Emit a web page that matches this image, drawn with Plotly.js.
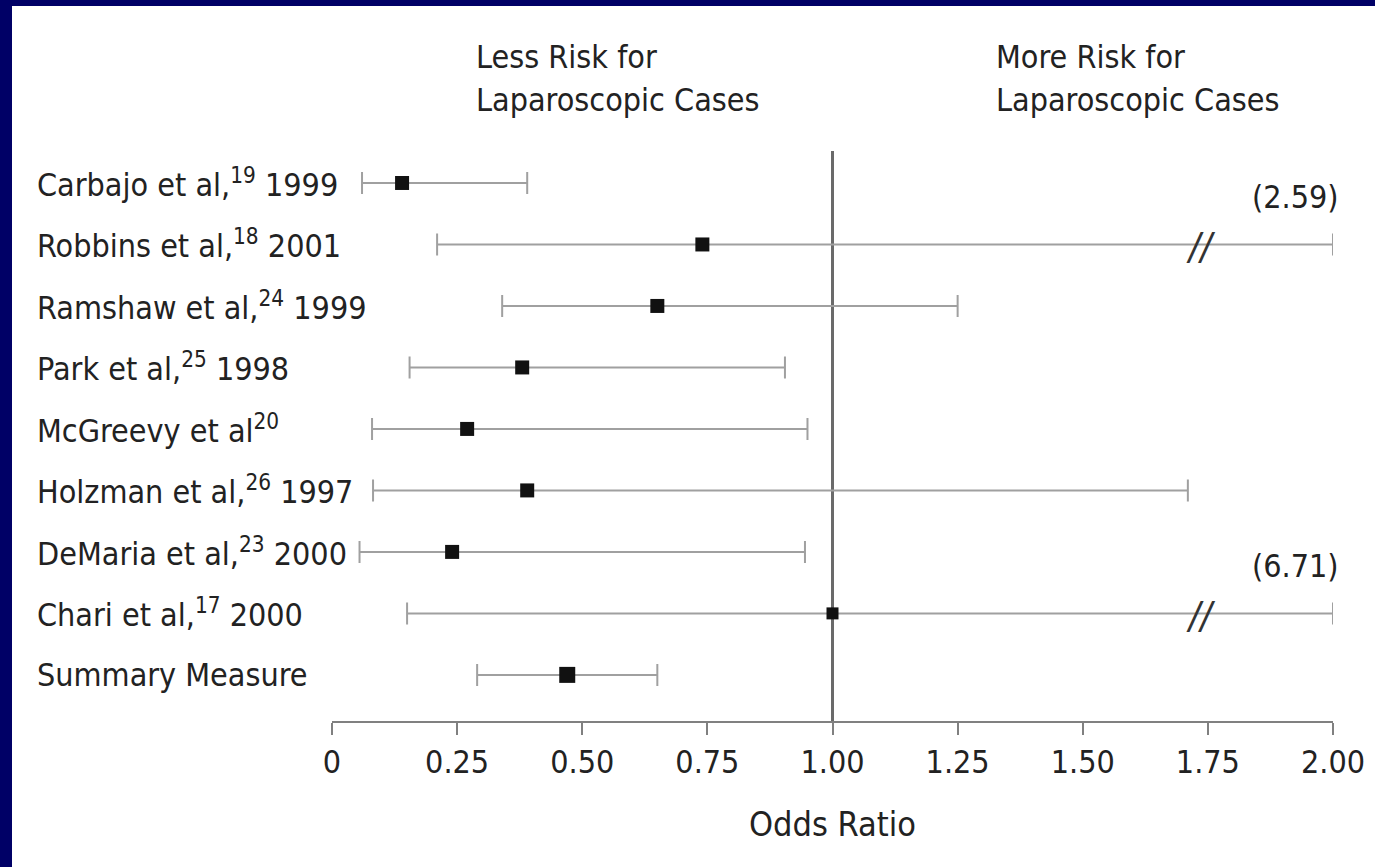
<!DOCTYPE html>
<html>
<head>
<meta charset="utf-8">
<script src="https://cdn.plot.ly/plotly-3.0.1.min.js"></script>
<style>
  html, body { margin: 0; padding: 0; background: #000066; width: 1375px; height: 867px; overflow: hidden; }
  #chart { position: absolute; left: 12px; top: 6px; width: 1363px; height: 861px; background: #fff; }
</style>
</head>
<body>
<div id="chart"></div>
<script>
// ---- data ----
const studies = [
  "Carbajo et al,<sup>19</sup> 1999",
  "Robbins et al,<sup>18</sup> 2001",
  "Ramshaw et al,<sup>24</sup> 1999",
  "Park et al,<sup>25</sup> 1998",
  "McGreevy et al<sup>20</sup>",
  "Holzman et al,<sup>26</sup> 1997",
  "DeMaria et al,<sup>23</sup> 2000",
  "Chari et al,<sup>17</sup> 2000",
  "Summary Measure"
];
const oddsRatio = [0.14, 0.74, 0.65, 0.38, 0.27, 0.39, 0.24, 1.00, 0.47];
const ciLower   = [0.06, 0.21, 0.34, 0.155, 0.08, 0.082, 0.055, 0.15, 0.29];
const ciUpper   = [0.39, 2.59, 1.25, 0.905, 0.95, 1.71, 0.945, 6.71, 0.65];
const tickValues = [0, 0.25, 0.5, 0.75, 1, 1.25, 1.5, 1.75, 2];
const tickLabels = ["0", "0.25", "0.50", "0.75", "1.00", "1.25", "1.50", "1.75", "2.00"];
const headerLeft  = ["Less Risk for", "Laparoscopic Cases"];
const headerRight = ["More Risk for", "Laparoscopic Cases"];
const xTitle = "Odds Ratio";

// ---- drawing ----
const FONT = '"DejaVu Sans Condensed", "Liberation Sans Narrow", "Liberation Sans", sans-serif';
const TXT = '#222';
const FS = 32;
const xMax = 2;
const cats = studies.map((s, i) => 'row' + i);
const upperShown = ciUpper.map(u => Math.min(u, xMax));
const markerSizes = studies.map((s, i) => i === studies.length - 1 ? 16 : (oddsRatio[i] >= 1 ? 12 : 14));

const trace = {
  type: 'scatter', mode: 'markers',
  x: oddsRatio, y: cats,
  cliponaxis: false,
  marker: { symbol: 'square', color: '#111', size: markerSizes, line: { width: 0 }, opacity: 1 },
  error_x: {
    type: 'data', symmetric: false,
    array: upperShown.map((u, i) => u - oddsRatio[i]),
    arrayminus: oddsRatio.map((v, i) => v - ciLower[i]),
    color: '#a0a0a0', thickness: 2, width: 11
  },
  hoverinfo: 'x+y'
};

const annotations = [];
studies.forEach((s, i) => {
  annotations.push({
    xref: 'paper', yref: 'y', x: -0.2967, y: cats[i],
    xanchor: 'left', yanchor: 'middle', showarrow: false,
    text: s, font: { family: FONT, size: FS, color: TXT }
  });
  if (ciUpper[i] > xMax) {
    annotations.push({
      xref: 'x', yref: 'y', x: xMax, y: cats[i], xanchor: 'right', yanchor: 'middle',
      xshift: 8, yshift: 47, showarrow: false,
      text: '(' + ciUpper[i].toFixed(2) + ')', font: { family: FONT, size: FS, color: TXT }
    });
    annotations.push({
      xref: 'x', yref: 'y', x: 1.736, y: cats[i], xanchor: 'center', yanchor: 'middle',
      yshift: -2, showarrow: false, text: '<i>//</i>', font: { family: FONT, size: 38, color: '#333' }
    });
  }
});
[[headerLeft, 0.284], [headerRight, 1.322]].forEach(([lines, xv]) => {
  lines.forEach((t, k) => {
    annotations.push({
      xref: 'x', yref: 'paper', x: xv, y: k === 0 ? 1.165 : 1.0895,
      xanchor: 'left', yanchor: 'middle', showarrow: false,
      text: t, font: { family: FONT, size: 32, color: TXT }
    });
  });
});

const layout = {
  width: 1363, height: 861,
  paper_bgcolor: '#fff', plot_bgcolor: '#fff',
  margin: { l: 320, r: 42, t: 145, b: 146 },
  showlegend: false,
  font: { family: FONT, color: TXT },
  xaxis: {
    range: [0, xMax], fixedrange: true,
    showgrid: false, zeroline: false,
    showline: true, linecolor: '#808080', linewidth: 2,
    ticks: 'outside', ticklen: 12, tickwidth: 2, tickcolor: '#808080',
    tickvals: tickValues, ticktext: tickLabels,
    tickfont: { family: FONT, size: FS, color: TXT },
    title: { text: xTitle, font: { family: FONT, size: 34, color: TXT }, standoff: 32 }
  },
  yaxis: {
    type: 'category', categoryarray: cats, categoryorder: 'array',
    range: [8.75, -0.52], fixedrange: true,
    showgrid: false, zeroline: false, showline: false, showticklabels: false, ticks: ''
  },
  shapes: [{
    type: 'line', xref: 'x', yref: 'paper', x0: 1, x1: 1, y0: 0, y1: 1,
    line: { color: '#6a6a6a', width: 3 }, layer: 'below'
  }],
  annotations: annotations
};

Plotly.newPlot('chart', [trace], layout, { displayModeBar: false, staticPlot: true });
</script>
</body>
</html>
